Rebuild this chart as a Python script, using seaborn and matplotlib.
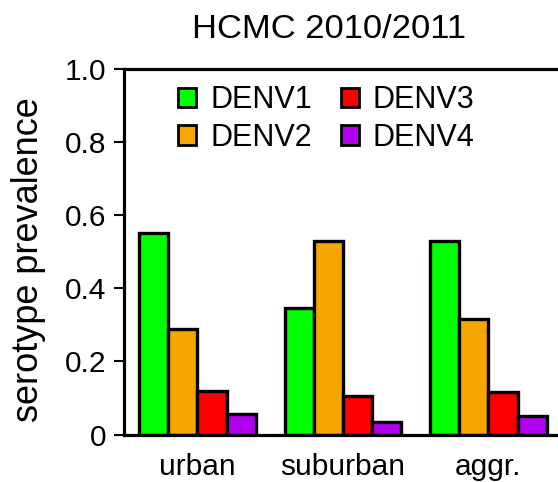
import matplotlib
matplotlib.use("Agg")
import matplotlib.pyplot as plt
from matplotlib.patches import Patch
import seaborn as sns
import pandas as pd

# Serotype prevalence per area, HCMC 2010/2011
areas = ["urban", "suburban", "aggr."]
serotypes = ["DENV1", "DENV2", "DENV3", "DENV4"]
denv1 = [0.55, 0.345, 0.53]
denv2 = [0.29, 0.53, 0.315]
denv3 = [0.12, 0.105, 0.115]
denv4 = [0.055, 0.035, 0.05]
colors = ["#00ff00", "#f7a600", "#fa0000", "#b000f0"]
y_ticks = [0, 0.2, 0.4, 0.6, 0.8, 1.0]
y_tick_labels = ["0", "0.2", "0.4", "0.6", "0.8", "1.0"]

rows = []
for name, vals in zip(serotypes, [denv1, denv2, denv3, denv4]):
    for area, v in zip(areas, vals):
        rows.append({"area": area, "serotype": name, "prevalence": v})
df = pd.DataFrame(rows)

sns.set_style("white")
plt.rcParams["font.family"] = ["Liberation Sans", "DejaVu Sans"]
plt.rcParams["text.color"] = "black"
plt.rcParams["xtick.color"] = "black"
plt.rcParams["ytick.color"] = "black"

W, H = 558, 482
fig = plt.figure(figsize=(W / 100, H / 100), dpi=100)
ax = fig.add_axes([124 / W, 1 - 434.5 / H, 1 - 124 / W, (434.5 - 69) / H])

sns.barplot(data=df, x="area", y="prevalence", hue="serotype",
            order=areas, hue_order=serotypes, palette=colors, saturation=1,
            width=0.8, edgecolor="black", linewidth=2.4, legend=False,
            ax=ax, zorder=2)

ax.set_xlim(-0.505, 2.478)
ax.set_ylim(0, 1.0)
ax.set_yticks(y_ticks)
ax.set_yticklabels(y_tick_labels)
ax.set_xlabel("")
ax.set_ylabel("")

for side in ["left", "top", "bottom"]:
    ax.spines[side].set_visible(True)
    ax.spines[side].set_linewidth(2.3)
    ax.spines[side].set_color("black")
    ax.spines[side].set_zorder(3)
ax.spines["right"].set_visible(False)

ax.tick_params(axis="y", direction="out", length=7, width=1.5, pad=6,
               labelsize=21.5, left=True, colors="black")
ax.tick_params(axis="x", length=0, pad=13, labelsize=21.5, colors="black")

fig.text(29 / W, 1 - 260 / H, "serotype prevalence", rotation=90,
         ha="center", va="center", fontsize=26, color="black")
fig.text(329 / W, 1 - 29 / H, "HCMC 2010/2011", ha="center", va="center",
         fontsize=24.8, color="black")

handles = [Patch(facecolor=c, edgecolor="black", linewidth=2.0) for c in colors]
ax.legend(handles, serotypes, ncol=2, frameon=False, fontsize=22,
          loc="upper left", bbox_to_anchor=(178 / W, 1 - 85 / H),
          bbox_transform=fig.transFigure, borderpad=0, borderaxespad=0,
          handlelength=0.6, handleheight=0.6, handletextpad=0.45,
          columnspacing=0.95, labelspacing=0.25)

fig.savefig("out.png", dpi=100)
